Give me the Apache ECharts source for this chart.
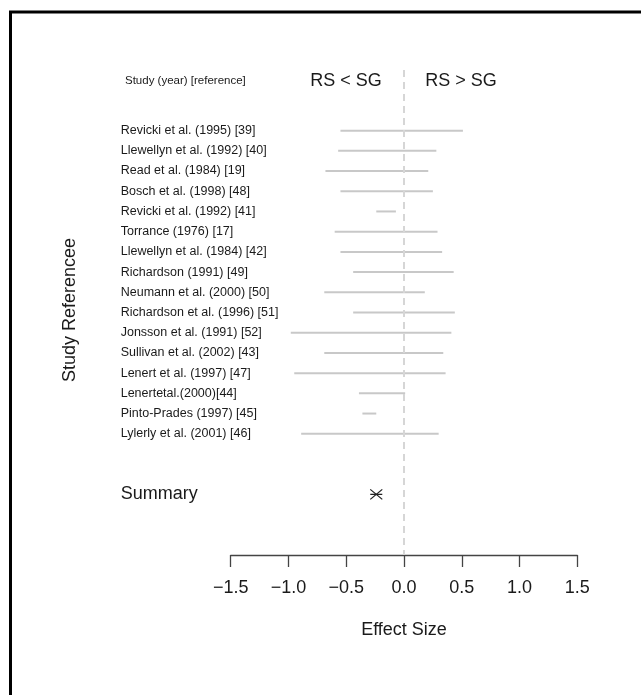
<!DOCTYPE html>
<html>
<head>
<meta charset="utf-8">
<script src="https://cdn.jsdelivr.net/npm/echarts@6/dist/echarts.min.js"></script>
<style>
html,body{margin:0;padding:0;background:#fff;}
#chart{width:641px;height:695px;}
</style>
</head>
<body>
<div id="chart"></div>
<script>
// ---- data ----
var studies = [
  'Revicki et al. (1995) [39]',
  'Llewellyn et al. (1992) [40]',
  'Read et al. (1984) [19]',
  'Bosch et al. (1998) [48]',
  'Revicki et al. (1992) [41]',
  'Torrance (1976) [17]',
  'Llewellyn et al. (1984) [42]',
  'Richardson (1991) [49]',
  'Neumann et al. (2000) [50]',
  'Richardson et al. (1996) [51]',
  'Jonsson et al. (1991) [52]',
  'Sullivan et al. (2002) [43]',
  'Lenert et al. (1997) [47]',
  'Lenertetal.(2000)[44]',
  'Pinto-Prades (1997) [45]',
  'Lylerly et al. (2001) [46]'
];
var lower = [-0.55, -0.57, -0.68, -0.55, -0.24, -0.60, -0.55, -0.44, -0.69, -0.44, -0.98, -0.69, -0.95, -0.39, -0.36, -0.89];
var upper = [0.51, 0.28, 0.21, 0.25, -0.07, 0.29, 0.33, 0.43, 0.18, 0.44, 0.41, 0.34, 0.36, 0.01, -0.24, 0.30];
var summaryLabel = 'Summary';
var summaryValue = -0.24;
var xTicks = [-1.5, -1.0, -0.5, 0.0, 0.5, 1.0, 1.5];
var summaryRow = 19;

var FONT = 'Liberation Sans, Arial, Helvetica, sans-serif';
var barData = studies.map(function (s, i) { return [lower[i], upper[i], i + 1]; });

var chart = echarts.init(document.getElementById('chart'), null, {renderer: 'canvas'});
var option = {
  backgroundColor: '#fff',
  animation: false,
  textStyle: {fontFamily: FONT},
  grid: {left: 230.7, right: 63.7, top: 70, bottom: 140},
  xAxis: {
    type: 'value',
    min: xTicks[0], max: xTicks[xTicks.length - 1], interval: 0.5,
    axisLine: {show: true, onZero: false, lineStyle: {color: '#444', width: 1.3}},
    axisTick: {show: true, inside: false, length: 12, lineStyle: {color: '#444', width: 1.3}},
    splitLine: {show: false},
    axisLabel: {
      margin: 24, fontSize: 18, color: '#1a1a1a', fontFamily: FONT,
      formatter: function (v) { return (v < 0 ? '\u2212' : '') + Math.abs(v).toFixed(1); }
    },
    name: 'Effect Size', nameLocation: 'middle', nameGap: 66,
    nameTextStyle: {fontSize: 18, color: '#1a1a1a', fontFamily: FONT}
  },
  yAxis: {
    type: 'value', inverse: true, min: -2, max: 22, interval: 1,
    axisLine: {show: false}, axisTick: {show: false}, splitLine: {show: false},
    axisLabel: {
      align: 'left', margin: 110, fontSize: 12.5, color: '#1a1a1a', fontFamily: FONT,
      formatter: function (v) {
        if (v >= 1 && v <= studies.length) return studies[v - 1];
        if (v === summaryRow) return '{s|' + summaryLabel + '}';
        return '';
      },
      rich: {s: {fontSize: 18, color: '#1a1a1a', fontFamily: FONT}}
    }
  },
  series: [
    {
      type: 'custom',
      data: barData,
      encode: {x: [0, 1], y: 2},
      renderItem: function (params, api) {
        var a = api.coord([api.value(0), api.value(2)]);
        var b = api.coord([api.value(1), api.value(2)]);
        return {type: 'line', shape: {x1: a[0], y1: a[1], x2: b[0], y2: b[1]},
          style: {stroke: '#c8c8c8', lineWidth: 2}};
      },
      markLine: {
        silent: true, symbol: 'none', label: {show: false},
        lineStyle: {color: '#d6d6d6', width: 2, type: [7, 5]},
        data: [{xAxis: 0}]
      },
      z: 2
    },
    {
      type: 'custom',
      data: [[summaryValue, summaryRow]],
      renderItem: function (params, api) {
        var c = api.coord([api.value(0), api.value(1)]);
        var w = 6, h = 5;
        return {type: 'group', children: [
          {type: 'line', shape: {x1: c[0]-w, y1: c[1]-h, x2: c[0]+w, y2: c[1]+h}, style: {stroke: '#222', lineWidth: 1.3}},
          {type: 'line', shape: {x1: c[0]-w, y1: c[1]+h, x2: c[0]+w, y2: c[1]-h}, style: {stroke: '#222', lineWidth: 1.3}},
          {type: 'line', shape: {x1: c[0]-w, y1: c[1], x2: c[0]+w, y2: c[1]}, style: {stroke: '#222', lineWidth: 1.3}}
        ]};
      },
      z: 3
    }
  ],
  graphic: [
    {type: 'line', shape: {x1: 9, y1: 12, x2: 641, y2: 12}, style: {stroke: '#000', lineWidth: 3}},
    {type: 'line', shape: {x1: 10.5, y1: 11, x2: 10.5, y2: 695}, style: {stroke: '#000', lineWidth: 3}},
    {type: 'text', left: 125, top: 75, style: {text: 'Study (year) [reference]', font: '11.5px ' + FONT, fill: '#1a1a1a'}},
    {type: 'text', x: 346, y: 81, style: {text: 'RS < SG', font: '18px ' + FONT, fill: '#1a1a1a', align: 'center', verticalAlign: 'middle'}},
    {type: 'text', x: 461, y: 81, style: {text: 'RS > SG', font: '18px ' + FONT, fill: '#1a1a1a', align: 'center', verticalAlign: 'middle'}},
    {type: 'text', x: 70, y: 310, rotation: Math.PI / 2, style: {text: 'Study Referencee', font: '18px ' + FONT, fill: '#1a1a1a', align: 'center', verticalAlign: 'middle'}}
  ]
};
chart.setOption(option);
</script>
</body>
</html>
